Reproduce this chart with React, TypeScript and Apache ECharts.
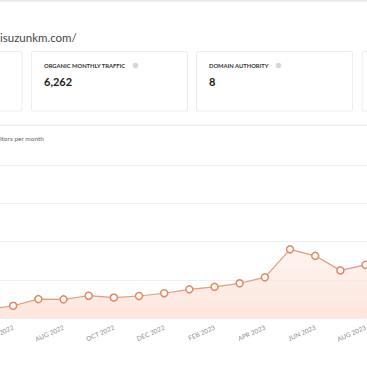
import React, { useEffect, useRef } from "react";
import * as echarts from "echarts";

const months = [
  "MAY 2022", "JUN 2022", "JUL 2022", "AUG 2022", "SEP 2022", "OCT 2022", "NOV 2022", "DEC 2022",
  "JAN 2023", "FEB 2023", "MAR 2023", "APR 2023", "MAY 2023", "JUN 2023", "JUL 2023", "AUG 2023", "SEP 2023",
];
const traffic = [450, 640, 990, 975, 1165, 1070, 1150, 1295, 1500, 1630, 1815, 2125, 3590, 3250, 2490, 2780, 3000];
const yTicks = [0, 2000, 4000, 6000, 8000];
const pageUrl = "isuzunkm.com/";
const chartSubtitle = "itors per month";
const cardLabels = ["ORGANIC MONTHLY TRAFFIC", "DOMAIN AUTHORITY"];
const cardValues = ["6,262", "8"];

const FONT = "Lato, 'Noto Sans', sans-serif";
const OFF = 40; // chart canvas extends beyond the visible window on both sides

export default function App() {
  const ref = useRef<HTMLDivElement>(null);
  useEffect(() => {
    if (!ref.current) return;
    const chart = echarts.init(ref.current, undefined, { renderer: "svg" });
    const cardXs = [31.5, 196.5];
    const iconXs = [135.5, 278.5];
    const cards: any[] = [];
    cards.push({ type: "rect", shape: { x: -200 + OFF, y: 51.5, width: 222, height: 59.5, r: 2 }, style: { fill: "#fff", stroke: "#ececec", lineWidth: 1 } });
    cards.push({ type: "rect", shape: { x: 362 + OFF, y: 51.5, width: 200, height: 59.5, r: 2 }, style: { fill: "#fff", stroke: "#ececec", lineWidth: 1 } });
    cardXs.forEach((cx, i) => {
      cards.push({ type: "rect", shape: { x: cx + OFF, y: 51.5, width: 156, height: 59.5, r: 2 }, style: { fill: "#fff", stroke: "#ececec", lineWidth: 1 } });
      cards.push({ type: "text", x: cx + 12.5 + OFF, y: 65.5, style: { text: cardLabels[i], font: `bold 5.8px ${FONT}`, fill: "#333333", verticalAlign: "middle" } });
      cards.push({ type: "circle", shape: { cx: iconXs[i] + OFF, cy: 65.5, r: 2.8 }, style: { fill: "#d6d6d6" } });
      cards.push({ type: "text", x: cx + 12.5 + OFF, y: 81, style: { text: cardValues[i], font: `bold 11px ${FONT}`, fill: "#222222", verticalAlign: "middle" } });
    });

    chart.setOption({
      animation: false,
      backgroundColor: "#fff",
      graphic: [
        { type: "rect", shape: { x: 0, y: 0, width: 367 + 2 * OFF, height: 1.5 }, style: { fill: "#e6e6e6" } },
        { type: "text", x: OFF, y: 37, style: { text: pageUrl, font: `11.5px ${FONT}`, fill: "#444444", align: "left", verticalAlign: "middle" } },
        ...cards,
        { type: "rect", shape: { x: 0, y: 124.5, width: 367 + 2 * OFF, height: 1.5 }, style: { fill: "#efefef" } },
        { type: "text", x: OFF, y: 138, style: { text: chartSubtitle, font: `6.5px ${FONT}`, fill: "#666666", align: "left", verticalAlign: "middle" } },
      ],
      grid: { left: OFF - 12, right: OFF - 23.7, top: 165, bottom: 49, containLabel: false },
      xAxis: {
        type: "category",
        data: months,
        boundaryGap: false,
        axisLine: { show: false },
        axisTick: { show: false },
        axisLabel: {
          interval: (idx: number) => idx % 2 === 1,
          rotate: 24,
          color: "#8a8a8a",
          fontSize: 6.5,
          fontFamily: FONT,
          margin: 9,
        },
      },
      yAxis: {
        type: "value",
        min: yTicks[0],
        max: yTicks[yTicks.length - 1],
        interval: yTicks[1] - yTicks[0],
        axisLabel: { show: false },
        axisLine: { show: false },
        axisTick: { show: false },
        splitLine: { lineStyle: { color: "#f0f0f0", width: 1 } },
      },
      series: [
        {
          type: "line",
          data: traffic,
          symbol: "circle",
          symbolSize: 7,
          itemStyle: { color: "#fff", borderColor: "#e48760", borderWidth: 1.5 },
          lineStyle: { color: "#e89a7a", width: 1.2 },
          areaStyle: {
            color: new echarts.graphic.LinearGradient(0, 0, 0, 1, [
              { offset: 0, color: "#fdf0ea" },
              { offset: 1, color: "#fbdcd0" },
            ]),
            origin: "start",
          },
        },
      ],
    });
    return () => chart.dispose();
  }, []);
  return <div ref={ref} style={{ position: "fixed", left: -OFF, top: 0, width: 367 + 2 * OFF, height: 367 }} />;
}
